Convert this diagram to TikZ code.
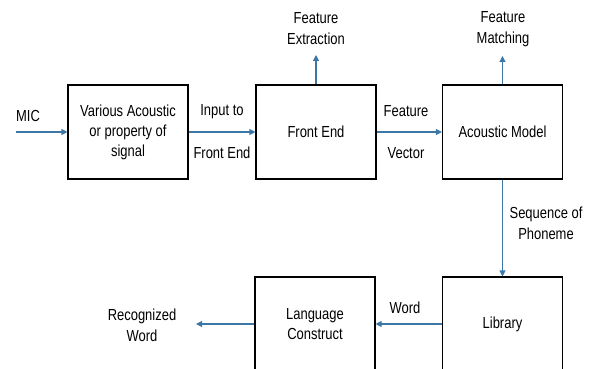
\documentclass[tikz,border=0pt]{standalone}
\usepackage{fontspec}
\setmainfont{Liberation Sans}[FakeStretch=0.81]
\usetikzlibrary{arrows.meta}
\definecolor{arr}{HTML}{3C77A6}
\tikzset{
  blk/.style={draw=black, line width=1.1pt, minimum width=120pt, minimum height=94pt, inner sep=0pt, align=center, font=\fontsize{16}{20}\selectfont},
  lbl/.style={inner sep=0pt, align=center, font=\fontsize{16}{21}\selectfont},
  conn/.style={draw=arr, line width=1.1pt, -{Triangle[length=6pt,width=6pt]}}
}
\begin{document}
\begin{tikzpicture}[x=1pt,y=-1pt]
\useasboundingbox (0,0) rectangle (595,369);
\clip (0,0) rectangle (595,369);
\node[blk] (b1) at (128,132) {Various Acoustic\\or property of\\signal};
\node[blk] (b2) at (316,132) {Front End};
\node[blk] (b3) at (502.5,132) {Acoustic Model};
\node[blk] (b4) at (315,324) {Language\\Construct};
\node[blk] (b5) at (502.5,324) {Library};
\coordinate (mic) at (16,132);
\coordinate (fe) at (316,55);
\coordinate (fm) at (502.5,56);
\coordinate (rw) at (196,324);
\node[lbl] (tmic) at (28,116) {MIC};
\node[lbl] (t1) at (222,112) {Input to};
\node[lbl] (t2) at (222,153) {Front End};
\node[lbl] (t3) at (406,111) {Feature};
\node[lbl] (t4) at (406,153) {Vector};
\node[lbl] (t5) at (316,29) {Feature\\Extraction};
\node[lbl] (t6) at (503,29) {Feature\\Matching};
\node[lbl] (t7) at (546,223) {Sequence of\\Phoneme};
\node[lbl] (t8) at (405,308) {Word};
\node[lbl] (t9) at (142,325) {Recognized\\Word};
\draw[conn] (mic) -- (b1.west);
\draw[conn] (b1.east) -- (b2.west);
\draw[conn] (b2.east) -- (b3.west);
\draw[conn] (b2.north) -- (fe);
\draw[conn] (b3.north) -- (fm);
\draw[conn] (b3.south) -- (b5.north);
\draw[conn] (b5.west) -- (b4.east);
\draw[conn] (b4.west) -- (rw);
\end{tikzpicture}
\end{document}
